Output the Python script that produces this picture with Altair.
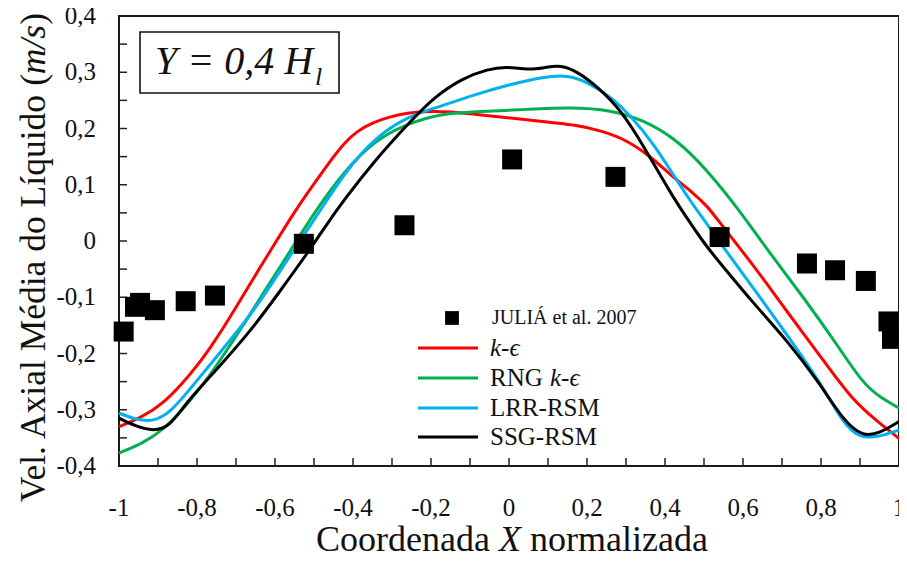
import altair as alt
import pandas as pd

# ---------------- data ----------------
x_ke = [-1.0, -0.94, -0.887, -0.836, -0.80, -0.768, -0.73, -0.70, -0.64, -0.60, -0.543, -0.483, -0.45,
        -0.42, -0.39, -0.35, -0.30, -0.258, -0.20, -0.156, -0.071, 0.05, 0.18, 0.24, 0.30, 0.36, 0.43,
        0.47, 0.51, 0.54, 0.63, 0.71, 0.80, 0.88, 0.95, 1.0]
y_ke = [-0.330, -0.313, -0.289, -0.252, -0.222, -0.192, -0.152, -0.118, -0.049, -0.004, 0.060, 0.118, 0.150,
        0.176, 0.195, 0.211, 0.222, 0.228, 0.231, 0.230, 0.224, 0.215, 0.206, 0.195, 0.180, 0.152, 0.108,
        0.087, 0.061, 0.033, -0.046, -0.123, -0.206, -0.283, -0.324, -0.351]

x_rng = [-1.0, -0.94, -0.887, -0.836, -0.768, -0.683, -0.628, -0.559, -0.50, -0.423, -0.343, -0.258, -0.173,
         -0.071, 0.048, 0.159, 0.261, 0.346, 0.431, 0.508, 0.584, 0.669, 0.754, 0.839, 0.907, 0.95, 1.0]
y_rng = [-0.377, -0.360, -0.336, -0.300, -0.241, -0.152, -0.090, -0.016, 0.050, 0.124, 0.180, 0.209, 0.227,
         0.230, 0.234, 0.238, 0.233, 0.215, 0.180, 0.126, 0.061, -0.022, -0.099, -0.182, -0.253, -0.277, -0.297]

x_lrr = [-1.0, -0.955, -0.912, -0.87, -0.82, -0.75, -0.666, -0.61, -0.551, -0.483, -0.423, -0.343, -0.258,
         -0.19, -0.09, 0.0, 0.09, 0.15, 0.20, 0.26, 0.31, 0.37, 0.43, 0.47, 0.51, 0.54, 0.63, 0.71, 0.80,
         0.856, 0.90, 0.95, 1.0]
y_lrr = [-0.306, -0.318, -0.321, -0.306, -0.265, -0.206, -0.135, -0.078, -0.015, 0.055, 0.120, 0.185, 0.222,
         0.236, 0.260, 0.278, 0.292, 0.295, 0.283, 0.257, 0.224, 0.174, 0.108, 0.066, 0.028, -0.002, -0.087,
         -0.164, -0.253, -0.324, -0.351, -0.348, -0.336]

x_ssg = [-1.0, -0.955, -0.912, -0.87, -0.83, -0.75, -0.66, -0.585, -0.517, -0.466, -0.423, -0.343, -0.258,
         -0.19, -0.12, -0.054, -0.003, 0.048, 0.09, 0.133, 0.176, 0.227, 0.287, 0.346, 0.414, 0.457, 0.50,
         0.542, 0.627, 0.712, 0.797, 0.856, 0.907, 0.95, 1.0]
y_ssg = [-0.315, -0.330, -0.338, -0.330, -0.289, -0.229, -0.158, -0.087, -0.022, 0.031, 0.073, 0.144, 0.209,
         0.257, 0.289, 0.306, 0.310, 0.304, 0.308, 0.313, 0.301, 0.274, 0.233, 0.168, 0.085, 0.040, -0.004,
         -0.040, -0.111, -0.176, -0.253, -0.318, -0.348, -0.342, -0.321]

exp_x = [-0.988, -0.959, -0.946, -0.908, -0.829, -0.754, -0.526, -0.268, 0.008, 0.273, 0.540,
         0.764, 0.836, 0.915, 0.973, 0.982]
exp_y = [-0.161, -0.117, -0.110, -0.123, -0.107, -0.097, -0.005, 0.028, 0.145, 0.114, 0.007,
         -0.040, -0.052, -0.071, -0.143, -0.174]

series_names = ["k-\u03f5", "RNG k-\u03f5", "LRR-RSM", "SSG-RSM"]
series_colors = ["#ff0000", "#00b050", "#00b0f0", "#000000"]
exp_label = "JULI\u00c1 et al. 2007"

x_label_vals = [-1, -0.8, -0.6, -0.4, -0.2, 0, 0.2, 0.4, 0.6, 0.8, 1]
x_label_text = ["-1", "-0,8", "-0,6", "-0,4", "-0,2", "0", "0,2", "0,4", "0,6", "0,8", "1"]
x_tick_vals = [-0.9, -0.8, -0.7, -0.6, -0.5, -0.4, -0.3, -0.2, -0.1, 0, 0.1, 0.2, 0.3, 0.4, 0.5,
               0.6, 0.7, 0.8, 0.9]
y_label_vals = [-0.4, -0.3, -0.2, -0.1, 0, 0.1, 0.2, 0.3, 0.4]
y_label_text = ["-0,4", "-0,3", "-0,2", "-0,1", "0", "0,1", "0,2", "0,3", "0,4"]
y_tick_vals = [-0.35, -0.3, -0.25, -0.2, -0.15, -0.1, -0.05, 0, 0.05, 0.1, 0.15, 0.2, 0.25, 0.3, 0.35]

# ---------------- chart ----------------
W, H = 780, 450
FONT = "Liberation Serif"
INK = "#111111"

xscale = alt.Scale(domain=[-1, 1], nice=False, zero=False)
yscale = alt.Scale(domain=[-0.4, 0.4], nice=False, zero=False)

layers = []

# model curves (red, green, blue, black on top)
for name, xs, ys, col in zip(series_names, [x_ke, x_rng, x_lrr, x_ssg],
                             [y_ke, y_rng, y_lrr, y_ssg], series_colors):
    df = pd.DataFrame({"x": xs, "v": ys, "o": list(range(len(xs)))})
    layers.append(
        alt.Chart(df).mark_line(strokeWidth=3, interpolate="basis", color=col).encode(
            x=alt.X("x:Q", scale=xscale, axis=None),
            y=alt.Y("v:Q", scale=yscale, axis=None),
            order="o:Q")
    )

# inward tick marks
layers.append(
    alt.Chart(pd.DataFrame({"v": y_tick_vals})).mark_rule(color="#222222", strokeWidth=1.5).encode(
        y=alt.Y("v:Q", scale=yscale, axis=None), x=alt.value(0), x2=alt.value(8))
)
layers.append(
    alt.Chart(pd.DataFrame({"x": x_tick_vals})).mark_rule(color="#222222", strokeWidth=1.5).encode(
        x=alt.X("x:Q", scale=xscale, axis=None), y=alt.value(H), y2=alt.value(H - 8))
)

# tick labels
layers.append(
    alt.Chart(pd.DataFrame({"x": x_label_vals, "t": x_label_text})).mark_text(
        align="center", baseline="alphabetic", font=FONT, fontSize=25, color=INK).encode(
        x=alt.X("x:Q", scale=xscale, axis=None), y=alt.value(H + 50), text="t:N")
)
layers.append(
    alt.Chart(pd.DataFrame({"v": y_label_vals, "t": y_label_text})).mark_text(
        align="right", baseline="middle", font=FONT, fontSize=25, color=INK).encode(
        y=alt.Y("v:Q", scale=yscale, axis=None), x=alt.value(-23), text="t:N")
)

# experimental points
layers.append(
    alt.Chart(pd.DataFrame({"x": exp_x, "v": exp_y})).mark_square(size=400, color="black", opacity=1).encode(
        x=alt.X("x:Q", scale=xscale, axis=None), y=alt.Y("v:Q", scale=yscale, axis=None))
)


def txt(s, x, y, size, style="normal", align="left", baseline="alphabetic", angle=0):
    return alt.Chart(pd.DataFrame({"t": [s]})).mark_text(
        align=align, baseline=baseline, font=FONT, fontSize=size, fontStyle=style,
        angle=angle, color=INK).encode(text="t:N", x=alt.value(x), y=alt.value(y))


# annotation box
layers.append(
    alt.Chart(pd.DataFrame({"a": [0]})).mark_rect(fill="white", stroke="#111111", strokeWidth=1.6).encode(
        x=alt.value(21), x2=alt.value(220), y=alt.value(16), y2=alt.value(77))
)
layers.append(txt("Y = 0,4 H", 36, 58, 40, style="italic"))
layers.append(txt("l", 196, 69, 26, style="italic"))

# legend
layers.append(
    alt.Chart(pd.DataFrame({"a": [0]})).mark_square(size=190, color="black", opacity=1).encode(
        x=alt.value(333), y=alt.value(302))
)
layers.append(txt(exp_label, 373, 302, 20, baseline="middle"))
leg_y = [332, 362, 392, 421]
for name, col, ly in zip(series_names, series_colors, leg_y):
    layers.append(
        alt.Chart(pd.DataFrame({"a": [0]})).mark_rule(color=col, strokeWidth=3).encode(
            x=alt.value(299), x2=alt.value(359), y=alt.value(ly))
    )
layers.append(txt(series_names[0], 371, 332, 25, style="italic", baseline="middle"))
layers.append(txt("RNG", 371, 362, 25, baseline="middle"))
layers.append(txt(series_names[0], 431, 362, 25, style="italic", baseline="middle"))
layers.append(txt(series_names[2], 371, 392, 25, baseline="middle"))
layers.append(txt(series_names[3], 371, 421, 25, baseline="middle"))

# axis titles (mixed upright / italic pieces)
layers.append(txt("Coordenada", 197, 535, 36))
layers.append(txt("X", 380, 535, 36, style="italic"))
layers.append(txt("normalizada", 411, 535, 36))

layers.append(txt(")", -74, -3, 35.5, align="right", angle=270))
layers.append(txt("m/s", -74, 9, 35.5, style="italic", align="right", angle=270))
layers.append(txt("(", -74, 58, 35.5, align="right", angle=270))
layers.append(txt("Vel. Axial M\u00e9dia do L\u00edquido", -74, 79, 35.5, align="right", angle=270))

chart = alt.layer(*layers).properties(
    width=W, height=H,
    autosize=alt.AutoSizeParams(type="none"),
    padding={"left": 111, "top": 8, "right": 0, "bottom": 87},
).configure_view(stroke="#1a1a1a", strokeWidth=2)

chart.save("out.html", embed_options={"renderer": "svg", "actions": False})
